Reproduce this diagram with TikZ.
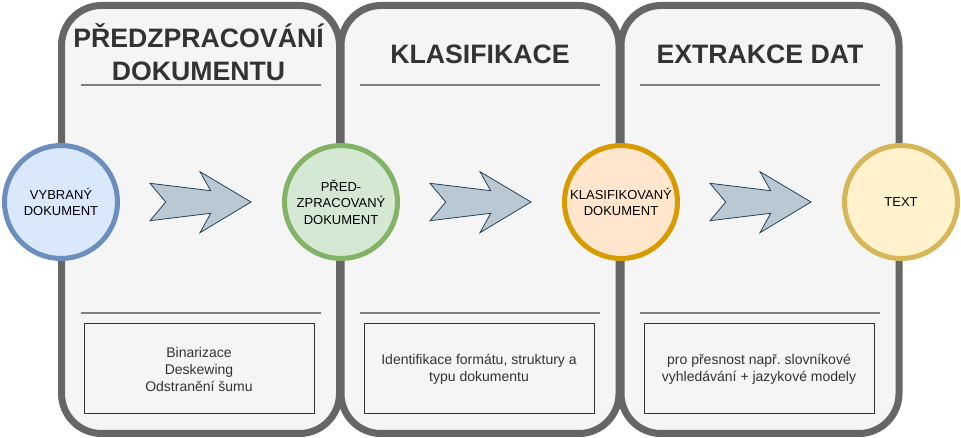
\documentclass[tikz,border=0pt]{standalone}
\usepackage{fontspec}
\setmainfont{Liberation Sans}
\usepackage{xcolor}
\usetikzlibrary{calc}
\definecolor{lanefill}{HTML}{F5F5F5}
\definecolor{lanedraw}{HTML}{666666}
\definecolor{darktext}{HTML}{333333}
\definecolor{ruleline}{HTML}{808080}
\definecolor{arrowfill}{HTML}{BAC8D3}
\definecolor{arrowline}{HTML}{23445D}
\definecolor{bluefill}{HTML}{DAE8FC}
\definecolor{blueline}{HTML}{6C8EBF}
\definecolor{greenfill}{HTML}{D5E8D4}
\definecolor{greenline}{HTML}{82B366}
\definecolor{orangefill}{HTML}{FFE6CC}
\definecolor{orangeline}{HTML}{D79B00}
\definecolor{yellowfill}{HTML}{FFF2CC}
\definecolor{yellowline}{HTML}{D6B656}
\frenchspacing

\begin{document}
\begin{tikzpicture}[x=0.75pt,y=-0.75pt]
    \tikzstyle{lane}=[draw=lanedraw, fill=lanefill, line width=5.25pt, rounded corners=30pt,
        minimum width=208.5pt, minimum height=321pt, inner sep=0pt]
    \tikzstyle{lane title}=[text=darktext, align=center, font=\fontsize{20}{24.75}\selectfont\bfseries]
    \tikzstyle{lane rule}=[draw=ruleline, line width=1.5pt]
    \tikzstyle{note}=[draw=darktext, fill=lanefill, line width=0.75pt, minimum width=172.5pt,
        minimum height=67.5pt, inner sep=0pt, align=center, text=darktext,
        font=\fontsize{10.5}{12.75}\selectfont]
    \tikzstyle{block arrow}=[draw=arrowline, fill=arrowfill, line width=0.6pt]
    \tikzstyle{doc}=[circle, line width=3.75pt, minimum size=84.75pt, inner sep=0pt, align=center,
        font=\fontsize{9.75}{12.4}\selectfont]
    \tikzstyle{input doc}=[doc, draw=blueline, fill=bluefill]
    \tikzstyle{prep doc}=[doc, draw=greenline, fill=greenfill]
    \tikzstyle{class doc}=[doc, draw=orangeline, fill=orangefill]
    \tikzstyle{text doc}=[doc, draw=yellowline, fill=yellowfill]

    \useasboundingbox (0,0) rectangle (961,438);

    % Draw the three lanes
    \foreach \name / \x in {1/200.5, 2/480, 3/760}
        \node[lane] (L-\name) at (\x,219.5) {};

    % Put the titles on top of the lanes
    \node[lane title] (T-1) at (198.5,52) {PŘEDZPRACOVÁNÍ\\DOKUMENTU};
    \node[lane title] (T-2) at (480,54) {KLASIFIKACE};
    \node[lane title] (T-3) at (760,54) {EXTRAKCE DAT};

    % Draw the rules under the titles and above the notes
    \foreach \name in {1,2,3}
    {
        \draw[lane rule] ($(L-\name.north)+(-120,83.5)$) -- ($(L-\name.north)+(120,83.5)$);
        \draw[lane rule] ($(L-\name.south)+(-120,-124)$) -- ($(L-\name.south)+(120,-124)$);
    }

    % Draw the notes at the bottom of the lanes
    \node[note] (N-1) at (199,369) {Binarizace\\Deskewing\\Odstranění šumu};
    \node[note] (N-2) at (479,369) {Identifikace formátu, struktury a\\typu dokumentu};
    \node[note] (N-3) at (759,369) {pro přesnost např. slovníkové\\vyhledávání + jazykové modely};

    % Draw the block arrows between the documents
    \foreach \x in {150,430,710}
        \draw[block arrow, shift={(\x,202)}] (0,-18.7) -- (60.7,-11.3) -- (50,-30.3) -- (101,0)
            -- (50,30.7) -- (60.7,11.3) -- (0,18.7) -- (15.7,0) -- cycle;

    % Draw the documents on the lane borders
    \node[input doc] (D-1) at (61,202) {VYBRANÝ\\DOKUMENT};
    \node[prep doc] (D-2) at (341,202) {PŘED-\\ZPRACOVANÝ\\DOKUMENT};
    \node[class doc] (D-3) at (621,202) {KLASIFIKOVANÝ\\DOKUMENT};
    \node[text doc] (D-4) at (901,202) {TEXT};
\end{tikzpicture}
\end{document}
